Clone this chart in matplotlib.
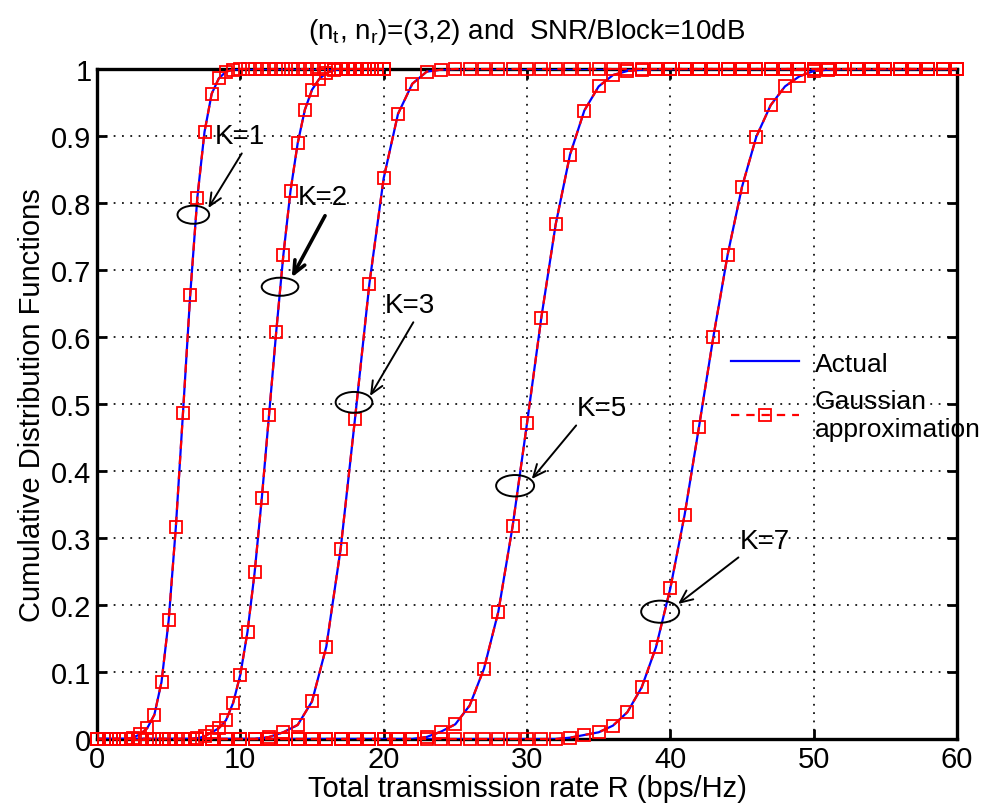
import numpy as np
import matplotlib
matplotlib.use("Agg")
import matplotlib.pyplot as plt
from matplotlib.patches import Ellipse

plt.rcParams['font.family'] = ['Liberation Sans', 'DejaVu Sans']
plt.rcParams['mathtext.fontset'] = 'custom'
plt.rcParams['mathtext.rm'] = 'Liberation Sans'
plt.rcParams['mathtext.it'] = 'Liberation Sans'
plt.rcParams['lines.scale_dashes'] = False

# sample grids (bps/Hz)
x_half = np.arange(0, 20.5, 0.5)   # K=1, K=2
x_full = np.arange(0, 61, 1)       # K=3, K=5, K=7

cdf_k1 = [0, 0, 0, 0, 0, 0.002, 0.007, 0.016, 0.036, 0.085, 0.177, 0.316, 0.487,
          0.662, 0.808, 0.906, 0.963, 0.986, 0.996, 0.999] + [1] * 21
cdf_k2 = [0] * 14 + [0.001, 0.004, 0.010, 0.016, 0.028, 0.054, 0.096, 0.160, 0.249,
                     0.360, 0.483, 0.607, 0.722, 0.818, 0.889, 0.939, 0.969, 0.985,
                     0.994, 0.998] + [1] * 7
cdf_k3 = [0] * 12 + [0.003, 0.010, 0.021, 0.056, 0.138, 0.284, 0.478, 0.679, 0.837,
                     0.933, 0.978, 0.996, 0.999] + [1] * 36
cdf_k5 = [0] * 23 + [0.003, 0.011, 0.022, 0.050, 0.105, 0.190, 0.318, 0.471, 0.629,
                     0.768, 0.872, 0.938, 0.974, 0.991, 0.997, 0.999] + [1] * 22
cdf_k7 = [0] * 33 + [0.002, 0.006, 0.010, 0.020, 0.040, 0.077, 0.137, 0.225, 0.335,
                     0.466, 0.600, 0.723, 0.824, 0.899, 0.946, 0.974, 0.989, 0.997,
                     0.999] + [1] * 9

curves = [(x_half, cdf_k1), (x_half, cdf_k2), (x_full, cdf_k3),
          (x_full, cdf_k5), (x_full, cdf_k7)]

# annotation: label, text pos, arrow start, arrow end, ellipse centre, ellipse size
k_labels = ['K=1', 'K=2', 'K=3', 'K=5', 'K=7']
text_pos = [(8.23, 0.900), (14.03, 0.809), (20.1, 0.648), (33.47, 0.494), (44.82, 0.296)]
arrow_from = [(10.10, 0.874), (15.91, 0.781), (22.07, 0.622), (33.43, 0.468), (44.75, 0.271)]
arrow_to = [(7.77, 0.7925), (13.59, 0.689), (19.05, 0.512), (30.33, 0.388), (40.54, 0.2015)]
ell_center = [(6.72, 0.7825), (12.77, 0.675), (17.93, 0.5025), (29.17, 0.378), (39.29, 0.190)]
ell_size = [(2.21, 0.027), (2.56, 0.027), (2.56, 0.031), (2.65, 0.032), (2.65, 0.033)]
arrow_lw = [1.4, 2.6, 1.4, 1.4, 1.4]

fig = plt.figure(figsize=(9.96, 8.12), dpi=100)
ax = fig.add_axes([97 / 996, 1 - 740 / 812, 860 / 996, 670 / 812])

for i, (xs, ys) in enumerate(curves):
    ax.plot(xs, ys, '-', color='#0000ff', lw=1.6, zorder=3,
            label='Actual' if i == 0 else None)
    ax.plot(xs, ys, color='#ff0000', lw=1.6, dashes=(6, 5), marker='s', ms=8,
            mfc='none', mec='#ff0000', mew=1.3, zorder=4, clip_on=False,
            label='Gaussian\napproximation' if i == 0 else None)

for lab, tp, af, at, ec, es, lw in zip(k_labels, text_pos, arrow_from, arrow_to,
                                       ell_center, ell_size, arrow_lw):
    ax.add_patch(Ellipse(ec, es[0], es[1], fill=False, ec='k', lw=1.4, zorder=5))
    ax.annotate('', xy=at, xytext=af,
                arrowprops=dict(arrowstyle='->,head_length=0.9,head_width=0.4',
                                lw=lw, color='k', shrinkA=0, shrinkB=0), zorder=5)
    ax.text(tp[0], tp[1], lab, fontsize=20, ha='left', va='center', zorder=6)

ax.set_xlim(0, 60)
ax.set_ylim(0, 1)
ax.set_xticks(np.arange(0, 61, 10))
ax.set_yticks(np.arange(0, 1.01, 0.1))
ax.set_yticklabels(['0', '0.1', '0.2', '0.3', '0.4', '0.5', '0.6', '0.7', '0.8', '0.9', '1'])
ax.tick_params(direction='in', length=7, width=2, labelsize=21, top=True, right=True, pad=4)
for s in ax.spines.values():
    s.set_linewidth(2.4)
ax.grid(True, color='k', linestyle=(0, (1.3, 4.7)), lw=1.2)
ax.set_axisbelow(True)

ax.set_xlabel('Total transmission rate R (bps/Hz)', fontsize=21, labelpad=1)
ax.set_ylabel('Cumulative Distribution Functions', fontsize=21, labelpad=4)
ax.set_title(r'(n$_t$, n$_r$)=(3,2) and  SNR/Block=10dB', fontsize=20, pad=22)

ax.legend(loc='upper left', bbox_to_anchor=((720 - 97) / 860, (740 - 342) / 670),
          frameon=False, fontsize=19, handlelength=2.6, handletextpad=0.6,
          labelspacing=0.5, borderaxespad=0)

fig.savefig('out.png', dpi=100)
